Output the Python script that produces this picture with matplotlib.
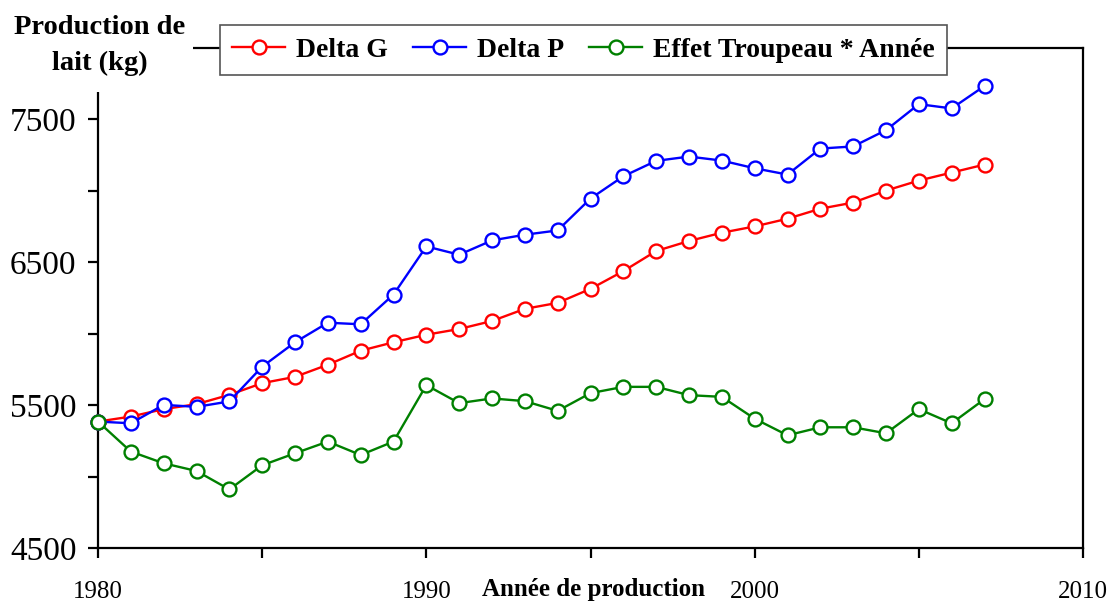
import matplotlib.pyplot as plt
from matplotlib.patches import Rectangle
from matplotlib.ticker import MultipleLocator

years = list(range(1980, 2008))
delta_g = [5385, 5420, 5472, 5507, 5572, 5654, 5698, 5783, 5881, 5940,
           5993, 6033, 6089, 6174, 6216, 6314, 6438, 6579, 6649, 6707,
           6751, 6805, 6875, 6918, 7002, 7072, 7128, 7184]
delta_p = [5385, 5373, 5502, 5488, 5526, 5769, 5940, 6077, 6066, 6274,
           6611, 6553, 6653, 6693, 6723, 6946, 7102, 7210, 7240, 7212,
           7158, 7114, 7296, 7311, 7425, 7607, 7577, 7734]
effet = [5385, 5175, 5093, 5039, 4910, 5079, 5163, 5245, 5151, 5245,
         5640, 5514, 5547, 5528, 5460, 5584, 5628, 5628, 5570, 5558,
         5405, 5289, 5345, 5345, 5303, 5472, 5373, 5542]

plt.rcParams['font.family'] = ['Liberation Serif', 'DejaVu Serif']

fig = plt.figure(figsize=(11.09, 6.03), dpi=100)
ax = fig.add_axes([98 / 1109, 55 / 603, 985 / 1109, 500 / 603])

style = dict(marker='o', markersize=10, markerfacecolor='white',
             markeredgewidth=1.7, linewidth=1.7, clip_on=False)
ax.plot(years, delta_g, color='#ff0000', label='Delta G', zorder=3, **style)
ax.plot(years, delta_p, color='#0000ff', label='Delta P', zorder=4, **style)
ax.plot(years, effet, color='#008000', label='Effet Troupeau * Année', zorder=5, **style)

ax.set_xlim(1980, 2010)
ax.set_ylim(4500, 8000)
ax.xaxis.set_major_locator(MultipleLocator(10))
ax.xaxis.set_minor_locator(MultipleLocator(5))
ax.set_yticks([4500, 5500, 6500, 7500])
ax.set_yticks([5000, 6000, 7000], minor=True)

for s in ax.spines.values():
    s.set_linewidth(1.6)
    s.set_color('black')
ax.tick_params(axis='both', which='both', direction='out', length=7.5, width=1.6)
ax.tick_params(axis='x', which='major', labelsize=18, pad=16)
ax.tick_params(axis='y', which='major', labelsize=24, pad=8)

# titre de l'axe des x, entre 1990 et 2000
ax.text(0.503, -0.083, 'Année de production', transform=ax.transAxes,
        ha='center', va='center', fontsize=18, fontweight='bold')

leg = ax.legend(loc='center', bbox_to_anchor=(0.493, 0.996), ncol=3,
                prop={'weight': 'bold', 'size': 20},
                fancybox=False, edgecolor='#555555', framealpha=1,
                handlelength=1.9, handletextpad=0.4, columnspacing=0.9,
                borderpad=0.45, borderaxespad=0)
leg.get_frame().set_linewidth(1.2)
leg.set_zorder(10)

# cache le coin haut-gauche du cadre derriere le titre de l'axe y
fig.add_artist(Rectangle((0, 1 - 92 / 603), 193 / 1109, 92 / 603,
                         transform=fig.transFigure, facecolor='white',
                         edgecolor='none', zorder=20))
fig.text(100 / 1109, 1 - 15 / 603, 'Production de\nlait (kg)', ha='center',
         va='top', fontsize=20.5, fontweight='bold', linespacing=1.55, zorder=21)

fig.savefig('out.png', dpi=100)
